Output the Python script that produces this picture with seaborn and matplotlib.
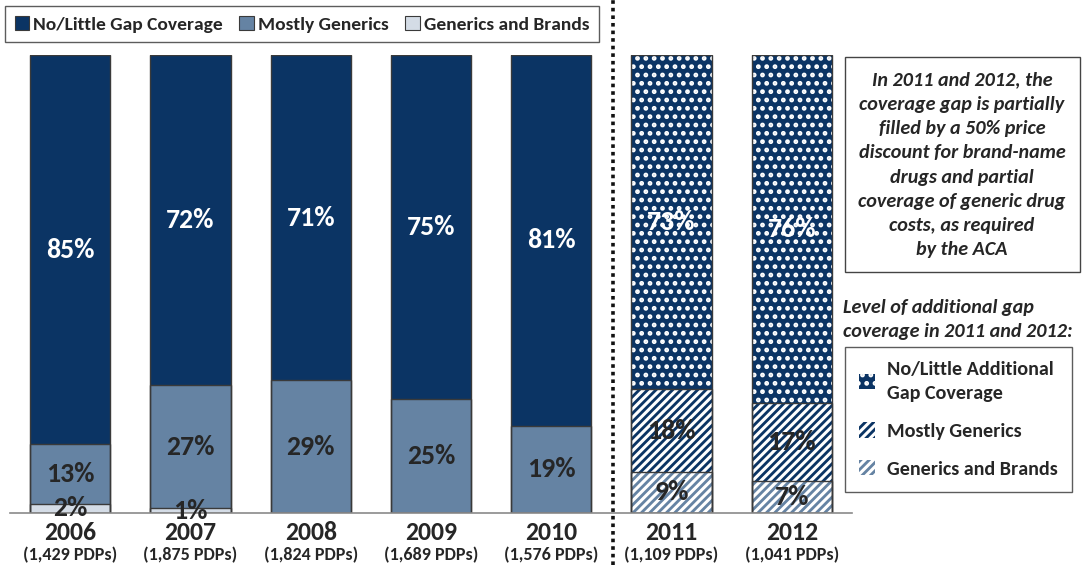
import matplotlib
matplotlib.use("Agg")
import matplotlib.pyplot as plt
import seaborn as sns
import pandas as pd
from matplotlib.patches import Patch, Rectangle
from matplotlib.lines import Line2D

# ---------------- data ----------------
years = ["2006", "2007", "2008", "2009", "2010", "2011", "2012"]
pdp_labels = ["(1,429 PDPs)", "(1,875 PDPs)", "(1,824 PDPs)", "(1,689 PDPs)",
              "(1,576 PDPs)", "(1,109 PDPs)", "(1,041 PDPs)"]
generics_and_brands = [2, 1, 0, 0, 0, 9, 7]
mostly_generics = [13, 27, 29, 25, 19, 18, 17]
no_little_gap = [85, 72, 71, 75, 81, 73, 76]
aca_years = ["2011", "2012"]

legend1_labels = ["No/Little Gap Coverage", "Mostly Generics", "Generics and Brands"]
legend2_labels = ["No/Little Additional\nGap Coverage", "Mostly Generics", "Generics and Brands"]
box_text = ("In 2011 and 2012, the\ncoverage gap is partially\nfilled by a 50% price\n"
            "discount for brand-name\ndrugs and partial\ncoverage of generic drug\n"
            "costs, as required\nby the ACA")
legend2_title = "Level of additional gap\ncoverage in 2011 and 2012:"

# ---------------- style ----------------
NAVY = "#0b3464"
STEEL = "#6583a3"
LIGHT = "#d4dce6"
DARK = "#262626"
EDGE = "#3a3a3a"

sns.set_theme(style="white")
FONT = ["Carlito", "Lato", "DejaVu Sans"]
plt.rcParams["font.family"] = FONT
plt.rcParams["hatch.linewidth"] = 2.2

W, H = 1083, 565
fig = plt.figure(figsize=(W / 100, H / 100), dpi=100)


def fx(px):
    return px / W


def fy(py):
    return 1 - py / H


ax = fig.add_axes([fx(10), fy(513), fx(852) - fx(10), (513 - 55) / H])

df = pd.DataFrame({
    "year": years,
    "gb": generics_and_brands,
    "mg": mostly_generics,
    "nl": no_little_gap,
})
df["cum_low"] = df["gb"]
df["cum_mid"] = df["gb"] + df["mg"]
df["cum_top"] = df["gb"] + df["mg"] + df["nl"]

BW = 0.667
layers = [
    ("cum_top", NAVY, NAVY, ".."),
    ("cum_mid", STEEL, NAVY, "////"),
    ("cum_low", LIGHT, STEEL, "////"),
]
for col, solid, hcol, hpat in layers:
    n0 = len(ax.patches)
    sns.barplot(data=df, x="year", y=col, order=years, color=solid, width=BW,
                saturation=1, errorbar=None, linewidth=0, ax=ax)
    for p, yr in zip(ax.patches[n0:], years):
        if yr in aca_years:
            p.set_facecolor(hcol)
            p.set_hatch(hpat)
            p.set_edgecolor("white")
            p.set_linewidth(0)
        else:
            p.set_edgecolor("none")

# outlines
for col, _, _, _ in layers:
    sns.barplot(data=df, x="year", y=col, order=years, color=EDGE, width=BW,
                fill=False, errorbar=None, linewidth=1.0, ax=ax)

ax.set_ylim(0, 100)
ax.set_xlim(-0.5, len(years) - 0.5)
ax.set_xlabel("")
ax.set_ylabel("")
ax.set_yticks([])
ax.set_xticks(range(len(years)))
ax.set_xticklabels([])
ax.tick_params(axis="x", length=0)
for s in ["top", "left", "right"]:
    ax.spines[s].set_visible(False)
ax.spines["bottom"].set_color("#8a8a8a")
ax.spines["bottom"].set_linewidth(1.2)

# segment labels
LBL = dict(ha="center", va="center", fontsize=20, fontweight="bold")
for i, yr in enumerate(years):
    gb, mg, nl = generics_and_brands[i], mostly_generics[i], no_little_gap[i]
    if gb > 0:
        ax.text(i, gb / 2, f"{gb}%", color=DARK, **LBL)
    ax.text(i, gb + mg / 2, f"{mg}%", color=DARK, **LBL)
    ax.text(i, gb + mg + nl / 2, f"{nl}%", color="white", **LBL)

xt = ax.get_xaxis_transform()
for i, yr in enumerate(years):
    ax.text(i, -(532 - 513) / 458, yr, transform=xt, ha="center", va="center",
            fontsize=18.5, fontweight="bold", color=DARK, clip_on=False)
    ax.text(i, -(555 - 513) / 458, pdp_labels[i], transform=xt, ha="center",
            va="center", fontsize=13, fontweight="bold", color=DARK, clip_on=False)

# dotted separator
fig.add_artist(Line2D([fx(613), fx(613)], [0, 1], transform=fig.transFigure,
                      color="#111111", linewidth=2.6, linestyle=(0, (1, 1.1)),
                      dash_capstyle="butt"))

# top legend
h1 = [Patch(facecolor=c, edgecolor=EDGE, linewidth=0.8) for c in (NAVY, STEEL, LIGHT)]
leg1 = fig.legend(h1, legend1_labels, loc="upper left", ncol=3,
                  bbox_to_anchor=(fx(5), fy(6)), frameon=True, fancybox=False,
                  prop=dict(family=FONT, weight="bold", size=14),
                  handlelength=0.75, handleheight=0.75, handletextpad=0.2,
                  columnspacing=0.85, borderpad=0.5, borderaxespad=0)
leg1.get_frame().set_edgecolor("#333333")
leg1.get_frame().set_linewidth(1.0)
for t in leg1.get_texts():
    t.set_color(DARK)

# text box on right
fig.add_artist(Rectangle((fx(845), fy(272)), fx(1080) - fx(845), (272 - 57) / H,
                         transform=fig.transFigure, facecolor="white",
                         edgecolor="#444444", linewidth=1.0))
fig.text(fx(962), fy(165), box_text, ha="center", va="center", fontsize=14.5,
         fontweight="bold", style="italic", color=DARK, linespacing=1.52)

fig.text(fx(843), fy(320), legend2_title, ha="left", va="center", fontsize=14.5,
         fontweight="bold", style="italic", color=DARK, linespacing=1.5)

# hatched legend
h2 = [Patch(facecolor=NAVY, hatch="..", edgecolor="white", linewidth=0),
      Patch(facecolor=NAVY, hatch="////", edgecolor="white", linewidth=0),
      Patch(facecolor=STEEL, hatch="////", edgecolor="white", linewidth=0)]
leg2 = fig.legend(h2, legend2_labels, loc="upper left", ncol=1,
                  bbox_to_anchor=(fx(845), fy(347)), frameon=True, fancybox=False,
                  prop=dict(family=FONT, weight="bold", size=14.5),
                  handlelength=0.8, handleheight=0.8, handletextpad=0.6,
                  labelspacing=1.0, borderpad=0.7, borderaxespad=0)
leg2.get_frame().set_edgecolor("#333333")
leg2.get_frame().set_linewidth(1.0)
for t in leg2.get_texts():
    t.set_color(DARK)
    t.set_linespacing(1.5)

fig.savefig("out.png", dpi=100)
